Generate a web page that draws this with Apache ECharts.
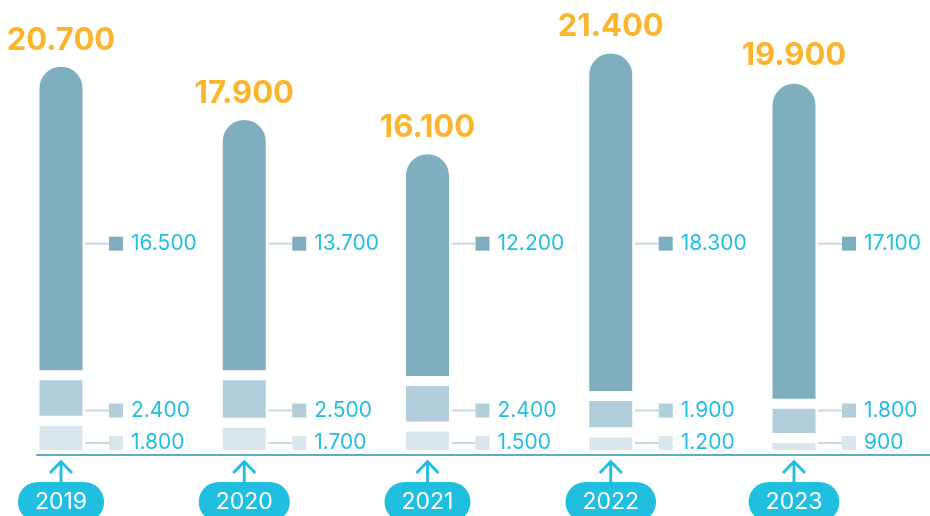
<!DOCTYPE html>
<html>
<head>
<meta charset="utf-8">
<script src="https://cdn.jsdelivr.net/npm/echarts@6/dist/echarts.min.js"></script>
<style>html,body{margin:0;padding:0;background:#fff;}#c{width:930px;height:516px;}</style>
</head>
<body>
<div id="c"></div>
<script>
// ---- data ----
const years = ['2019', '2020', '2021', '2022', '2023'];
const bottomVals = [1800, 1700, 1500, 1200, 900];
const middleVals = [2400, 2500, 2400, 1900, 1800];
const topVals = [16500, 13700, 12200, 18300, 17100];
const totals = [20700, 17900, 16100, 21400, 19900];

// ---- style / layout constants ----
const FONT = 'Inter, "Open Sans", sans-serif';
const CYAN = '#20bfe0';
const ORANGE = '#fbb52c';
const C_TOP = '#7fafbe', C_MID = '#b2cedb', C_BOT = '#d9e6ec';
const STEP_PX = 183.25, FIRST_CENTER = 61, BOTTOM = 61;
const Y_MAX = 23950;
const LEVEL_TOP = 11122, LEVEL_MID = 2342, LEVEL_BOT = 632; // label row heights (value units)
const BAR_W = 53, BORDER = 5;

const fmt = v => String(v).replace(/\B(?=(\d{3})+(?!\d))/g, '.');

function barSeries(vals, color, radius) {
  return {
    type: 'bar', stack: 'all', barWidth: BAR_W, silent: true, clip: false,
    data: vals,
    itemStyle: { color: color, borderColor: '#fff', borderWidth: BORDER, borderRadius: radius }
  };
}
function rowSeries(vals, level, color) {
  return {
    type: 'scatter', symbolSize: 0, clip: false, silent: true,
    itemStyle: { opacity: 1 },
    data: vals.map(() => level),
    label: {
      show: true, position: 'right', distance: BAR_W / 2 - BORDER / 2,
      formatter: p => '{ln|}{sq|}{t|' + fmt(vals[p.dataIndex]) + '}',
      rich: {
        ln: { width: 24, height: 2, backgroundColor: '#c8dae1' },
        sq: { width: 14, height: 14, backgroundColor: color },
        t: { fontSize: 21, color: CYAN, fontFamily: FONT, padding: [0, 0, 0, 8] }
      }
    }
  };
}

const chart = echarts.init(document.getElementById('c'), null, { renderer: 'canvas' });
chart.setOption({
  animation: false,
  backgroundColor: '#fff',
  grid: [
    { left: FIRST_CENTER, width: STEP_PX * (years.length - 1), top: 0, bottom: BOTTOM },
    { left: 37, right: 0, top: 0, bottom: BOTTOM }
  ],
  xAxis: [
    { type: 'category', data: years, gridIndex: 0, boundaryGap: false, axisLine: { show: false },
      axisTick: { show: false }, axisLabel: { show: false }, splitLine: { show: false } },
    { type: 'value', gridIndex: 1, min: 0, max: 1, z: 5,
      axisLine: { show: true, lineStyle: { color: '#5caec2', width: 2 } },
      axisTick: { show: false }, axisLabel: { show: false }, splitLine: { show: false } }
  ],
  yAxis: [
    { type: 'value', gridIndex: 0, min: 0, max: Y_MAX, show: false },
    { type: 'value', gridIndex: 1, min: 0, max: 1, show: false }
  ],
  series: [
    barSeries(bottomVals, C_BOT, 0),
    barSeries(middleVals, C_MID, 0),
    barSeries(topVals, C_TOP, [BAR_W / 2, BAR_W / 2, 0, 0]),
    rowSeries(topVals, LEVEL_TOP, C_TOP),
    rowSeries(middleVals, LEVEL_MID, C_MID),
    rowSeries(bottomVals, LEVEL_BOT, C_BOT),
    {
      type: 'scatter', clip: false, silent: true, symbolSize: 0,
      itemStyle: { opacity: 1 },
      data: totals,
      label: {
        show: true, position: 'top', distance: 6,
        formatter: p => fmt(totals[p.dataIndex]),
        fontSize: 31, fontWeight: 'bold', color: ORANGE, fontFamily: FONT
      }
    },
    {
      type: 'scatter', clip: false, silent: true, z: 6,
      data: years.map(() => 0),
      symbol: 'path://M0,12 L11,0 L22,12 M11,0 L11,22',
      symbolSize: [22, 21], symbolOffset: [0, 17], symbolKeepAspect: false,
      itemStyle: { color: 'rgba(0,0,0,0)', borderColor: CYAN, borderWidth: 2.8, opacity: 1 }
    },
    {
      type: 'scatter', clip: false, silent: true, z: 6, symbolSize: 0,
      itemStyle: { opacity: 1 },
      data: years.map(() => 0),
      label: {
        show: true, position: 'bottom', distance: 27,
        formatter: p => years[p.dataIndex],
        backgroundColor: CYAN, borderRadius: 20, padding: [8, 17, 8, 17],
        color: '#fff', fontSize: 23, lineHeight: 24, fontFamily: FONT
      }
    }
  ]
});
</script>
</body>
</html>
